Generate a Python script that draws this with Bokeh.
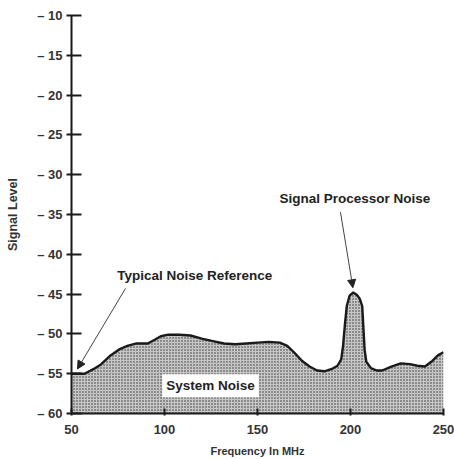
from bokeh.plotting import figure
from bokeh.models import Range1d, FixedTicker, Label, Arrow, NormalHead, ColumnDataSource
from bokeh.embed import file_html
from bokeh.resources import INLINE

# Data
freq = [50, 57, 62, 66, 71, 76, 80, 85, 91, 95, 98, 102, 108, 114, 120, 126, 132, 138, 144,
        150, 156, 162, 166, 170, 174, 178, 182, 186, 190, 193, 195, 196, 197, 198, 199.5,
        201.5, 203.5, 205, 206.3, 207, 207.6, 208.5, 211, 214, 217, 222, 227, 232, 236, 240,
        244, 247, 250]
level = [-55, -55, -54.4, -53.8, -52.7, -51.9, -51.5, -51.2, -51.2, -50.7, -50.3, -50.1,
         -50.1, -50.2, -50.6, -50.9, -51.2, -51.3, -51.2, -51.1, -51.0, -51.1, -51.5, -52.4,
         -53.4, -54.1, -54.6, -54.7, -54.4, -54.0, -53.2, -51.5, -48.8, -46.5, -45.2, -44.8,
         -45.1, -45.6, -46.5, -49.5, -52.0, -53.5, -54.3, -54.6, -54.6, -54.1, -53.7, -53.8,
         -54.0, -54.1, -53.4, -52.7, -52.3]
floor = [-60] * len(freq)

y_ticks = [-10, -15, -20, -25, -30, -35, -40, -45, -50, -55, -60]
y_tick_labels = ["\u2013 10", "\u2013 15", "\u2013 20", "\u2013 25", "\u2013 30", "\u2013 35",
                 "\u2013 40", "\u2013 45", "\u2013 50", "\u2013 55", "\u2013 60"]
x_ticks = [50, 100, 150, 200, 250]

FONT = "Liberation Sans"

p = figure(width=454, height=459, output_backend="svg", toolbar_location=None,
           x_range=Range1d(50, 250), y_range=Range1d(-60, -10),
           min_border_left=71, min_border_right=11, min_border_top=15, min_border_bottom=46)
p.outline_line_color = None
p.xgrid.visible = False
p.ygrid.visible = False
p.background_fill_color = "white"
p.border_fill_color = "white"

src = ColumnDataSource(dict(x=freq, y=level, y0=floor))
p.varea(x="x", y1="y0", y2="y", source=src, fill_color="#c6c6c6",
        hatch_pattern="dot", hatch_color="#333333", hatch_scale=3, hatch_weight=1)
p.line(x="x", y="y", source=src, line_color="#1a1a1a", line_width=2.4)

# axes
ya = p.yaxis[0]
ya.ticker = FixedTicker(ticks=y_ticks)
ya.major_label_overrides = {t: l for t, l in zip(y_ticks, y_tick_labels)}
ya.minor_tick_line_color = None
ya.major_tick_in = 10
ya.major_tick_out = 5
ya.major_tick_line_width = 2
ya.axis_line_width = 2
ya.axis_line_color = "#1a1a1a"
ya.major_tick_line_color = "#1a1a1a"
ya.major_label_text_font = FONT
ya.major_label_text_font_style = "bold"
ya.major_label_text_font_size = "13px"
ya.major_label_text_color = "#333333"
ya.major_label_standoff = 4
ya.axis_label = "Signal Level"
ya.axis_label_text_font = FONT
ya.axis_label_text_font_style = "bold"
ya.axis_label_text_font_size = "12.5px"
ya.axis_label_text_color = "#333333"
ya.axis_label_standoff = 14

xa = p.xaxis[0]
xa.ticker = FixedTicker(ticks=x_ticks)
xa.minor_tick_line_color = None
xa.major_tick_in = 5
xa.major_tick_out = 2
xa.major_tick_line_width = 2
xa.axis_line_width = 2
xa.axis_line_color = "#1a1a1a"
xa.major_tick_line_color = "#1a1a1a"
xa.major_label_text_font = FONT
xa.major_label_text_font_style = "bold"
xa.major_label_text_font_size = "13px"
xa.major_label_text_color = "#333333"
xa.major_label_standoff = 9
xa.axis_label = "Frequency In MHz"
xa.axis_label_text_font = FONT
xa.axis_label_text_font_style = "bold"
xa.axis_label_text_font_size = "11px"
xa.axis_label_text_color = "#333333"
xa.axis_label_standoff = 8

# annotations
p.add_layout(Label(x=74.6, y=-42.7, text="Typical Noise Reference", text_font=FONT,
                   text_font_style="bold", text_font_size="13.5px", text_color="#222222",
                   text_baseline="middle"))
p.add_layout(Arrow(x_start=79, y_start=-44.3, x_end=53.2, y_end=-54.4, line_width=1,
                   line_color="#444444",
                   end=NormalHead(size=8, fill_color="#222222", line_color="#222222")))

p.add_layout(Label(x=161.8, y=-33.0, text="Signal Processor Noise", text_font=FONT,
                   text_font_style="bold", text_font_size="13.5px", text_color="#222222",
                   text_baseline="middle"))
p.add_layout(Arrow(x_start=194.6, y_start=-34.7, x_end=201.3, y_end=-44.2, line_width=1,
                   line_color="#444444",
                   end=NormalHead(size=8, fill_color="#222222", line_color="#222222")))

p.add_layout(Label(x=98.8, y=-56.5, text="System Noise", text_font=FONT,
                   text_font_style="bold", text_font_size="13.5px", text_color="#222222",
                   text_baseline="middle", background_fill_color="white",
                   padding=4))

open("out.html", "w").write(file_html(p, INLINE))
